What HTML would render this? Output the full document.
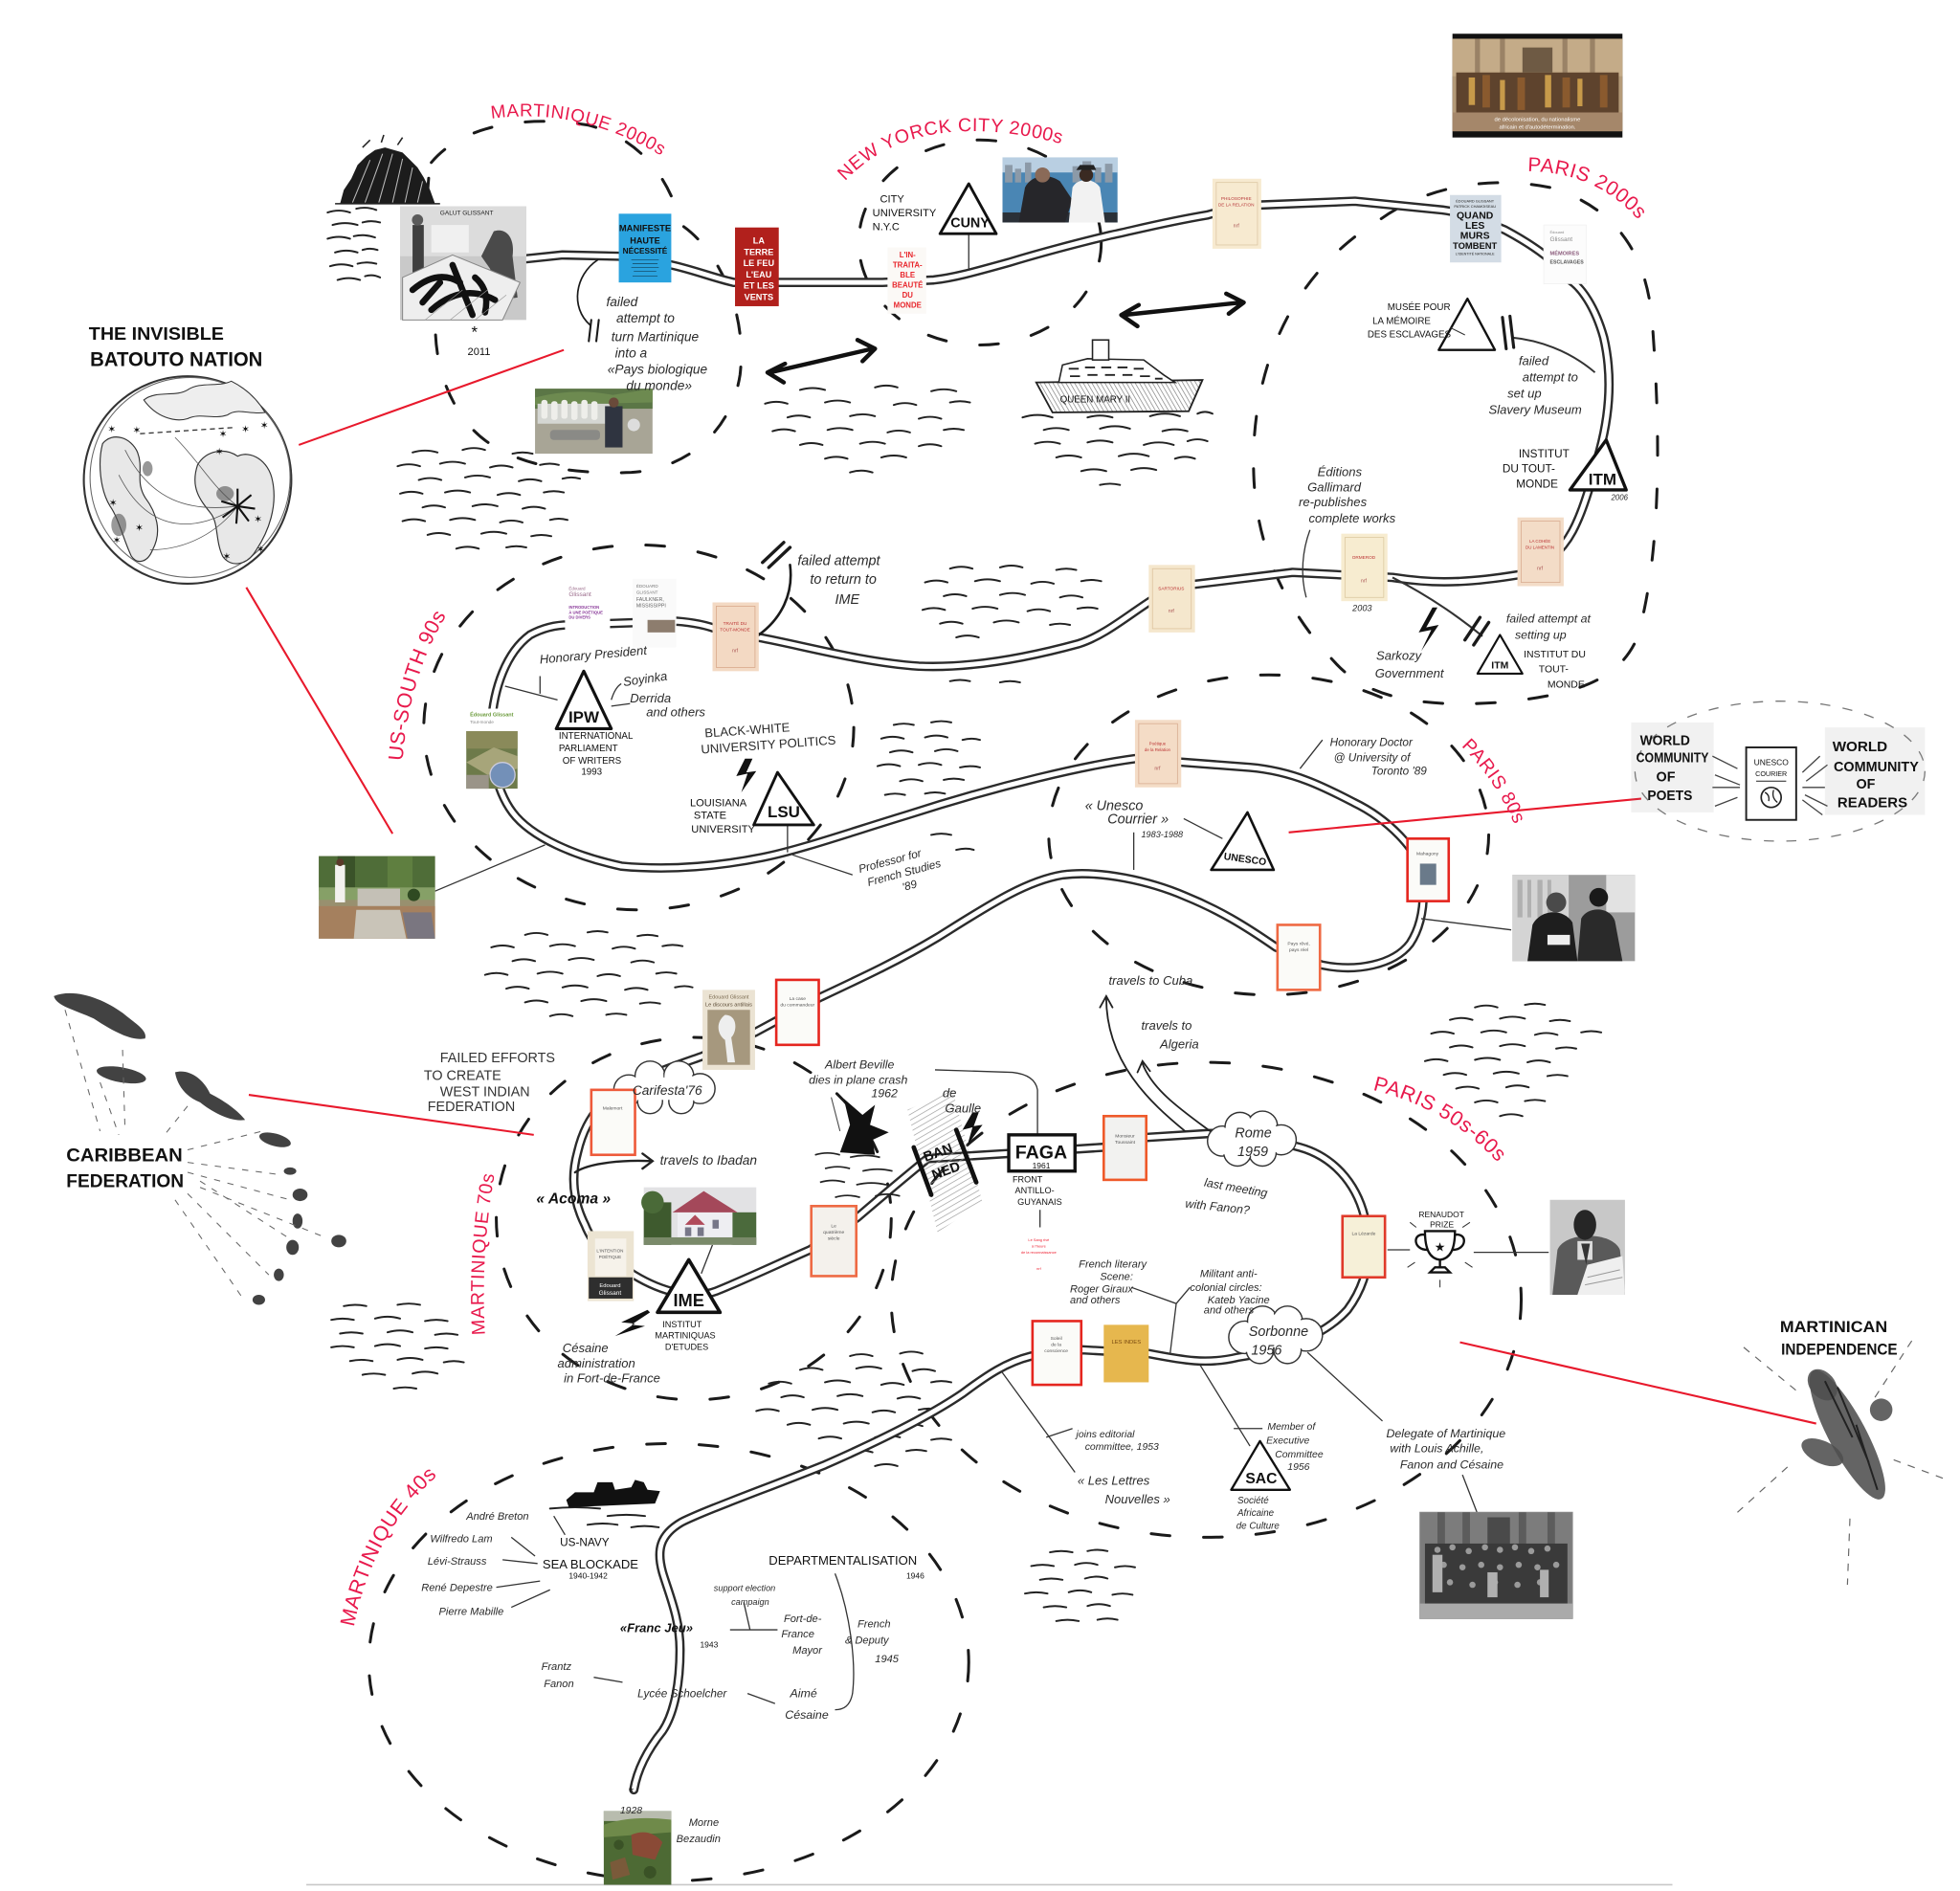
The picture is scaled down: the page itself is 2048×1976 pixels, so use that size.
<!DOCTYPE html>
<html><head><meta charset="utf-8"><style>
html,body{margin:0;padding:0;background:#fff;}
svg{display:block;}
text{font-family:"Liberation Sans",sans-serif;}
.h{font-style:italic;fill:#2a2a2a;}
.k{fill:#111;}
.b{fill:#111;font-weight:bold;}
.r{fill:#e8194c;letter-spacing:0.5px;}
</style></head><body>
<svg width="2048" height="1976" viewBox="0 0 1568 1513" xmlns="http://www.w3.org/2000/svg">
<defs>
<pattern id="hatch" width="4" height="4" patternUnits="userSpaceOnUse" patternTransform="rotate(60)"><line x1="0" y1="0" x2="0" y2="4" stroke="#999" stroke-width="1"/></pattern>
<pattern id="hatch2" width="3" height="3" patternUnits="userSpaceOnUse" patternTransform="rotate(-30)"><line x1="0" y1="0" x2="0" y2="3" stroke="#777" stroke-width="1"/></pattern>
<path id="pM2" d="M393,95 Q472,84 545,135"/>
<path id="pNY" d="M676,145 Q735,82 860,118"/>
<path id="pP2" d="M1222,137 Q1292,138 1326,198"/>
<path id="pUS" d="M322,609 Q328,530 368,476"/>
<path id="pP8" d="M1169,597 Q1208,635 1224,696"/>
<path id="pP5" d="M1098,872 Q1185,893 1230,975"/>
<path id="pM7" d="M388,1068 Q384,1000 397,932"/>
<path id="pM4" d="M283,1302 Q300,1215 368,1166"/>
<path id="rib" d="M507,1432 C510,1415 518,1400 530,1385 C540,1370 544,1345 544,1320 C544,1295 535,1275 530,1258 C525,1240 528,1228 545,1218 C565,1208 610,1192 660,1172 C710,1150 745,1132 770,1115 C790,1100 805,1090 825,1085 L866,1080 L919,1083 C945,1088 965,1092 990,1086 C1030,1080 1060,1068 1078,1048 C1095,1025 1098,1000 1092,975 C1085,945 1065,925 1040,918 C1010,910 990,906 966,907 L918,910 L882,918 L805,923 L742,927 C720,945 700,962 686,974 L648,1000 C625,1010 600,1022 573,1033 C555,1040 530,1034 507,1020 C488,1008 475,998 468,980 C458,960 457,940 462,922 C466,905 472,895 480,885 C490,875 500,868 512,864 C530,856 548,850 562,845 L604,826 L656,798 C690,782 720,768 750,750 C790,725 820,705 850,700 C880,696 920,705 948,717 C975,728 995,740 1021,758 L1057,772 C1085,778 1115,772 1128,755 C1138,740 1140,720 1138,700 C1135,680 1110,655 1083,642 C1060,630 1035,617 1000,614 L908,607 C870,612 800,628 726,652 C680,666 640,680 610,686 C580,692 540,697 497,693 C460,685 425,670 410,650 C395,630 392,600 393,580 C395,550 405,522 424,508 C435,502 445,500 455,500 L541,497 C555,498 565,500 575,504 L607,510 C640,516 690,530 735,533 C780,535 830,524 863,515 C885,508 905,490 925,478 C940,470 950,468 960,467 L1034,458 L1114,462 C1140,466 1165,468 1214,460 C1235,455 1250,440 1258,425 C1266,410 1272,390 1280,360 C1288,330 1290,300 1283,270 C1276,245 1265,230 1256,224 C1245,210 1230,198 1204,184 C1185,176 1170,170 1154,168 L1084,161 L1009,164 C995,166 980,168 966,172 C930,178 900,186 889,188 C860,195 830,203 807,210 C785,216 765,222 747,224 L706,226 L643,226 L587,226 C570,222 555,216 537,212 L495,205 L450,204 L421,207"/>
</defs>

<!-- bottom line -->
<line x1="245" y1="1508" x2="1338" y2="1508" stroke="#c8c8c8" stroke-width="1.2"/>

<!-- dashed regions -->
<g fill="none" stroke="#1a1a1a" stroke-width="2.3" stroke-dasharray="15 27" stroke-linecap="round">
<path d="M345,130 C370,100 420,92 470,100 C510,110 535,140 545,180 C575,200 598,250 592,300 C585,345 550,375 505,378 C450,380 400,370 375,340 C350,310 345,270 350,240 C345,200 338,160 345,130 Z"/>
<ellipse cx="784" cy="194" rx="97" ry="82"/>
<path d="M1105,175 C1140,150 1190,140 1240,150 C1290,165 1318,200 1322,260 C1328,340 1330,440 1310,510 C1295,545 1260,556 1200,562 C1140,566 1095,560 1068,530 C1030,490 1005,440 1003,380 C1000,300 1030,220 1105,175 Z"/>
<ellipse cx="511" cy="582" rx="172" ry="146"/>
<ellipse cx="1015" cy="668" rx="176" ry="128"/>
<ellipse cx="555" cy="975" rx="158" ry="145"/>
<ellipse cx="965" cy="1040" rx="252" ry="190"/>
<ellipse cx="535" cy="1330" rx="240" ry="175"/>
</g>
<ellipse cx="1424" cy="617" rx="116" ry="56" fill="none" stroke="#777" stroke-width="1" stroke-dasharray="8 10"/>

<!-- waves -->
<g fill="none" stroke="#222" stroke-width="1.5" stroke-linecap="round">
<path d="M262,170 q9,-3 18,0 M285,167 q8,-2 16,1 M266,180 q10,-3 20,0 M290,178 q7,-2 14,0 M262,191 q9,-3 18,0 M283,189 q9,-2 17,1 M268,202 q9,-3 18,0 M290,200 q6,-2 12,0 M264,213 q9,-3 18,0 M286,211 q8,-2 15,0 M270,224 q9,-3 18,0 M292,221 q6,-2 12,1"/>
<path d="M330,362 q10,-3 20,0 M370,360 q9,-3 18,0 M410,363 q8,-2 16,0 M318,373 q9,-3 18,0 M352,371 q10,-3 20,0 M392,374 q9,-3 18,0 M432,372 q8,-2 15,0 M335,384 q9,-3 18,0 M372,382 q10,-3 20,0 M415,385 q9,-3 18,0 M450,383 q7,-2 14,0 M320,395 q9,-3 18,0 M356,394 q10,-3 20,0 M398,396 q9,-3 18,0 M435,394 q8,-2 16,0 M338,406 q9,-3 18,0 M378,405 q10,-3 20,0 M418,407 q9,-3 18,0 M322,417 q9,-3 18,0 M360,416 q10,-3 20,0 M400,418 q9,-3 18,0 M440,416 q7,-2 14,0 M342,428 q9,-3 18,0 M385,427 q10,-3 20,0 M425,429 q8,-2 16,0 M365,439 q9,-3 18,0 M405,438 q8,-2 16,0"/>
<path d="M640,312 q10,-3 20,0 M700,310 q9,-3 18,0 M745,313 q10,-3 20,0 M612,323 q9,-3 18,0 M660,322 q10,-3 20,0 M715,324 q9,-3 18,0 M760,322 q8,-2 16,0 M630,334 q9,-3 18,0 M680,333 q10,-3 20,0 M735,335 q9,-3 18,0 M618,345 q9,-3 18,0 M662,344 q10,-3 20,0 M710,346 q9,-3 18,0 M755,344 q8,-2 16,0 M640,356 q9,-3 18,0 M688,355 q10,-3 20,0 M735,357 q9,-3 18,0 M660,367 q9,-3 18,0 M705,366 q10,-3 20,0 M680,378 q9,-3 18,0"/>
<path d="M818,334 q12,-4 24,0 M870,334 q10,-3 20,0 M920,333 q12,-4 24,0 M958,331 q6,-3 12,0 M835,344 q10,-3 20,0 M880,343 q12,-4 24,0 M930,345 q10,-3 20,0 M828,355 q10,-3 20,0 M870,354 q10,-3 20,0 M915,356 q12,-4 24,0 M950,353 q8,-3 16,0 M845,366 q10,-3 20,0 M895,365 q12,-4 24,0 M940,367 q8,-3 16,0 M865,377 q10,-3 20,0 M905,376 q10,-3 20,0 M880,388 q8,-2 16,0"/>
<path d="M715,580 q8,-2 16,0 M745,578 q8,-2 16,0 M705,591 q9,-3 18,0 M740,590 q9,-3 18,0 M770,592 q7,-2 14,0 M712,602 q9,-3 18,0 M748,601 q9,-3 18,0 M702,613 q9,-3 18,0 M735,612 q9,-3 18,0 M768,614 q8,-2 16,0 M720,625 q9,-3 18,0 M755,624 q8,-2 16,0 M708,636 q8,-2 16,0 M740,635 q8,-2 16,0 M745,668 q8,-2 16,0 M765,680 q8,-2 14,0"/>
<path d="M420,748 q9,-3 18,0 M470,746 q8,-2 16,0 M510,749 q8,-2 16,0 M393,758 q9,-3 18,0 M440,757 q10,-3 20,0 M490,759 q9,-3 18,0 M530,757 q8,-2 16,0 M410,769 q9,-3 18,0 M455,768 q10,-3 20,0 M505,770 q9,-3 18,0 M388,780 q9,-3 18,0 M430,779 q10,-3 20,0 M478,781 q9,-3 18,0 M525,779 q8,-2 16,0 M405,791 q9,-3 18,0 M450,790 q10,-3 20,0 M500,792 q9,-3 18,0 M540,790 q8,-2 14,0 M420,802 q9,-3 18,0 M465,801 q10,-3 20,0 M512,803 q8,-2 16,0 M440,813 q9,-3 18,0 M485,812 q8,-2 16,0"/>
<path d="M760,455 q9,-3 18,0 M800,454 q9,-3 18,0 M845,456 q8,-2 16,0 M740,466 q9,-3 18,0 M780,465 q10,-3 20,0 M825,467 q9,-3 18,0 M865,465 q8,-2 16,0 M755,477 q9,-3 18,0 M800,476 q10,-3 20,0 M848,478 q9,-3 18,0 M738,488 q9,-3 18,0 M778,487 q10,-3 20,0 M822,489 q9,-3 18,0 M862,487 q8,-2 16,0 M752,499 q9,-3 18,0 M795,498 q10,-3 20,0 M840,500 q8,-2 16,0 M765,510 q9,-3 18,0 M760,545 q8,-2 16,0 M800,546 q8,-2 16,0"/>
<path d="M1180,806 q9,-3 18,0 M1220,804 q8,-2 16,0 M1160,816 q9,-3 18,0 M1200,815 q10,-3 20,0 M1240,817 q8,-2 16,0 M1145,827 q9,-3 18,0 M1185,826 q10,-3 20,0 M1228,828 q9,-3 18,0 M1265,826 q8,-2 16,0 M1160,838 q9,-3 18,0 M1200,837 q10,-3 20,0 M1245,839 q8,-2 16,0 M1140,849 q9,-3 18,0 M1180,848 q10,-3 20,0 M1222,850 q9,-3 18,0 M1155,860 q9,-3 18,0 M1195,859 q10,-3 20,0 M1238,861 q8,-2 16,0 M1165,871 q9,-3 18,0 M1205,870 q9,-3 18,0 M1180,882 q9,-3 18,0 M1220,881 q8,-2 16,0 M1200,893 q9,-3 18,0"/>
<path d="M680,1085 q9,-3 18,0 M720,1083 q9,-3 18,0 M640,1096 q9,-3 18,0 M685,1095 q10,-3 20,0 M730,1097 q9,-3 18,0 M615,1107 q9,-3 18,0 M660,1106 q10,-3 20,0 M705,1108 q9,-3 18,0 M745,1106 q8,-2 16,0 M625,1118 q9,-3 18,0 M670,1117 q10,-3 20,0 M718,1119 q9,-3 18,0 M605,1129 q9,-3 18,0 M650,1128 q10,-3 20,0 M698,1130 q9,-3 18,0 M735,1128 q8,-2 16,0 M630,1140 q9,-3 18,0 M675,1139 q10,-3 20,0 M720,1141 q9,-3 18,0 M655,1151 q9,-3 18,0 M700,1150 q10,-3 20,0 M745,1152 q8,-2 16,0 M680,1162 q9,-3 18,0 M725,1161 q8,-2 16,0 M700,1173 q9,-3 18,0"/>
<path d="M275,1045 q9,-2 18,0 M318,1044 q9,-2 18,0 M265,1056 q9,-2 18,0 M300,1055 q10,-3 20,0 M340,1057 q9,-2 18,0 M272,1067 q9,-2 18,0 M310,1066 q10,-3 20,0 M348,1068 q9,-2 18,0 M265,1078 q9,-2 18,0 M300,1077 q10,-3 20,0 M340,1079 q9,-2 18,0 M280,1089 q9,-2 18,0 M318,1088 q10,-3 20,0 M355,1090 q8,-2 16,0 M290,1100 q9,-2 18,0 M330,1099 q10,-3 20,0 M315,1111 q9,-2 18,0"/>
<path d="M840,1242 q9,-2 18,0 M870,1241 q8,-2 16,0 M825,1253 q9,-2 18,0 M860,1252 q9,-3 18,0 M892,1254 q8,-2 16,0 M832,1264 q9,-2 18,0 M868,1263 q9,-3 18,0 M820,1275 q9,-2 18,0 M855,1274 q9,-3 18,0 M890,1276 q8,-2 16,0 M835,1286 q9,-2 18,0 M870,1285 q9,-3 18,0 M845,1297 q9,-2 18,0 M878,1296 q8,-2 16,0"/>
<path d="M440,1207 q20,-2 40,0 M486,1213 q15,-2 30,0 M470,1220 q12,-2 24,0 M505,1222 q10,-2 22,0"/>
</g>

<!-- ribbon -->
<g fill="none" stroke-linecap="round" stroke-linejoin="round">
<use href="#rib" stroke="#2b2b2b" stroke-width="7.5"/>
<use href="#rib" stroke="#fff" stroke-width="3.8"/>
</g>

<!-- red links -->
<g stroke="#e8192c" stroke-width="1.6">
<line x1="239" y1="356" x2="451" y2="280"/>
<line x1="197" y1="470" x2="314" y2="667"/>
<line x1="199" y1="876" x2="427" y2="908"/>
<line x1="1031" y1="666" x2="1313" y2="639"/>
<line x1="1168" y1="1074" x2="1453" y2="1139"/>
</g>

<!-- thin connectors -->
<g fill="none" stroke="#333" stroke-width="1">
<line x1="348" y1="713" x2="436" y2="676"/>
<line x1="1137" y1="735" x2="1209" y2="744"/>
<line x1="1040" y1="615" x2="1058" y2="592"/>
<line x1="1110" y1="1000" x2="1128" y2="1000"/>
<line x1="1179" y1="1002" x2="1239" y2="1002"/>
<line x1="1046" y1="1082" x2="1106" y2="1137"/>
<line x1="1170" y1="1180" x2="1182" y2="1211"/>
<line x1="960" y1="1092" x2="1000" y2="1157"/>
<line x1="987" y1="1143" x2="1010" y2="1143"/>
<line x1="801" y1="1097" x2="860" y2="1178"/>
<path d="M837,1150 L858,1143"/>
<path d="M905,1030 L941,1043 L952,1030 M941,1043 L936,1084"/>
<line x1="832" y1="968" x2="832" y2="982"/>
<path d="M830,908 L830,872 Q828,860 810,858 L748,856"/>
<line x1="570" y1="996" x2="561" y2="1019"/>
<line x1="907" y1="666" x2="907" y2="696"/>
<line x1="947" y1="655" x2="978" y2="671"/>
<line x1="630" y1="660" x2="630" y2="682"/>
<line x1="634" y1="684" x2="682" y2="700"/>
<path d="M404,549 L446,560 M432,541 L432,555 M489,560 Q492,550 497,547 M489,565 L504,563"/>
<line x1="775" y1="187" x2="775" y2="215"/>
<path d="M1048,424 C1042,440 1040,460 1045,478"/>
<path d="M1209,270 C1230,272 1255,280 1276,298" stroke-width="1.5"/>
<path d="M1114,462 C1140,475 1165,492 1186,509" stroke-width="1.6"/>
<line x1="475" y1="1342" x2="498" y2="1346"/>
<line x1="598" y1="1355" x2="620" y2="1363"/>
<path d="M584,1304 L622,1304 M600,1304 L595,1282"/>
<path d="M668,1259 C680,1290 685,1330 682,1355 C680,1365 675,1368 668,1368"/>
<path d="M443,1213 L452,1228 M409,1230 L428,1245 M402,1248 L430,1251 M397,1270 L432,1265 M409,1286 L440,1272"/>
</g>

<!-- failed branches with bars -->
<g fill="none" stroke="#1a1a1a" stroke-linecap="round">
<path d="M607,508 C625,495 635,475 632,452" stroke-width="2"/>
<path d="M610,450 L627,434 M615,454 L632,438" stroke-width="2.6"/>
<path d="M478,208 C460,220 456,246 472,260" stroke-width="1.3"/>
<path d="M473,256 L471,273 M479,256 L477,273" stroke-width="1.6"/>
<path d="M1172,512 L1184,494 M1179,516 L1191,498" stroke-width="2.6"/>
<path d="M1202,254 L1205,279 M1208,253 L1211,278" stroke-width="2.4"/>
</g>

<!-- double arrows -->
<g fill="none" stroke="#111" stroke-width="3.4" stroke-linecap="round" stroke-linejoin="round">
<path d="M616,298 L698,279 M686,272 L700,279 L690,289 M628,291 L614,298 L627,306"/>
<path d="M899,252 L993,242 M981,235 L995,242 L983,251 M911,244 L897,252 L910,261"/>
</g>
<!-- travel arrows -->
<g fill="none" stroke="#222" stroke-width="1.4" stroke-linecap="round">
<path d="M948,905 C920,882 885,850 885,798 M880,806 L885,797 L890,806"/>
<path d="M968,905 C945,888 922,872 914,851 M910,858 L914,849 L920,857"/>
<path d="M460,938 C472,930 500,928 521,929 M514,923 L522,929 L514,935" stroke-width="1.8"/>
</g>

<!-- mountain -->
<path d="M272,163 L275,152 L281,143 L286,132 L293,125 L300,120 L308,118 L315,120 L322,122 L328,128 L334,134 L339,142 L344,152 L348,163 Z" fill="#1c1c1c"/>
<g stroke="#fff" stroke-width="0.8" opacity="0.7"><path d="M282,162 L296,128 M292,162 L306,123 M303,162 L314,123 M314,162 L322,127 M324,162 L330,134 M334,162 L338,145"/></g>
<g stroke="#222" stroke-width="1.2"><path d="M268,163 L352,163 M290,118 L296,112 M305,114 L307,108 M318,116 L322,110"/></g>

<!-- globe -->
<g fill="none" stroke="#333">
<circle cx="150" cy="384" r="83" stroke-width="1.6"/>
<circle cx="152" cy="382" r="80" stroke-width="0.8" stroke="#666"/>
<path d="M82,355 C90,345 105,350 110,362 C115,375 108,385 116,398 C125,410 130,425 122,440 C118,450 110,452 105,445 C98,430 95,415 88,405 C80,392 78,370 82,355 Z" fill="#e8e8e8" stroke-width="0.9"/>
<path d="M158,372 C165,360 180,358 190,365 C200,360 215,368 218,385 C222,405 215,425 205,440 C198,452 185,455 178,445 C172,432 175,418 168,410 C160,400 152,390 158,372 Z" fill="#e8e8e8" stroke-width="0.9"/>
<path d="M115,320 C125,312 140,318 150,312 C160,305 175,310 185,305 C195,310 205,318 212,330 C200,332 190,326 182,332 C170,336 160,330 150,335 C140,338 125,334 115,320 Z" fill="#eee" stroke-width="0.8"/>
<path d="M112,347 L188,342" stroke-dasharray="4 3" stroke-width="1"/>
<path d="M100,360 C120,400 150,410 190,405 M95,380 C120,430 160,425 190,405 M140,350 C160,370 170,390 190,405 M120,440 C150,440 175,425 190,405" stroke-width="0.6" stroke="#555"/>
<path d="M190,405 L190,391 M190,405 L201,396 M190,405 L204,407 M190,405 L199,417 M190,405 L189,419 M190,405 L178,414 M190,405 L177,401" stroke="#111" stroke-width="1.6"/>
</g>
<g fill="#555" opacity="0.6"><ellipse cx="95" cy="420" rx="6" ry="9"/><ellipse cx="180" cy="395" rx="7" ry="6"/><ellipse cx="118" cy="375" rx="4" ry="6"/></g>
<g font-size="8" fill="#111"><text x="86" y="346">✶</text><text x="106" y="347">✶</text><text x="175" y="350">✶</text><text x="193" y="346">✶</text><text x="208" y="343">✶</text><text x="87" y="405">✶</text><text x="108" y="425">✶</text><text x="172" y="364">✶</text><text x="203" y="418">✶</text><text x="205" y="442">✶</text><text x="178" y="448">✶</text><text x="90" y="435">✶</text></g>

<!-- Caribbean islands -->
<g fill="#2e2e2e" opacity="0.9">
<path d="M43,797 C60,790 85,800 100,812 C110,820 118,825 116,831 C105,833 90,825 75,815 C60,808 45,805 43,797 Z"/>
<ellipse cx="97" cy="860" rx="20" ry="6" transform="rotate(10 97 860)"/>
<path d="M140,858 C150,855 162,862 168,875 C178,880 190,888 196,896 C185,898 170,890 160,882 C150,878 142,870 140,858 Z"/>
<ellipse cx="220" cy="912" rx="13" ry="5" transform="rotate(15 220 912)"/>
<ellipse cx="232" cy="937" rx="5" ry="3"/><ellipse cx="240" cy="956" rx="6" ry="5"/><ellipse cx="238" cy="977" rx="4" ry="6"/><ellipse cx="234" cy="998" rx="5" ry="6"/><ellipse cx="223" cy="1020" rx="4" ry="5"/><ellipse cx="207" cy="1040" rx="5" ry="4"/><ellipse cx="271" cy="993" rx="6" ry="5"/>
</g>
<g stroke="#666" stroke-width="0.8" stroke-dasharray="5 6" fill="none">
<path d="M52,808 L80,905 M80,866 L95,908 M98,840 L100,905 M150,885 L130,910 M150,920 L210,905 M150,930 L225,940 M150,938 L232,960 M160,945 L230,990 M150,955 L215,1020 M140,960 L195,1040 M160,950 L260,990"/>
</g>

<!-- dove -->
<g>
<ellipse cx="1478" cy="1148" rx="58" ry="15" transform="rotate(62 1478 1148)" fill="#4e4e4e" opacity="0.88"/>
<circle cx="1505" cy="1128" r="9" fill="#4e4e4e" opacity="0.88"/>
<ellipse cx="1458" cy="1162" rx="18" ry="9" transform="rotate(25 1458 1162)" fill="#4e4e4e" opacity="0.88"/>
<ellipse cx="1458" cy="1108" rx="14" ry="10" transform="rotate(50 1458 1108)" fill="#4e4e4e" opacity="0.88"/>
<path d="M1460,1105 L1482,1150 M1470,1110 L1495,1170 M1485,1140 L1502,1192" stroke="#222" stroke-width="1.5"/>
</g>
<g stroke="#666" stroke-width="0.9" stroke-dasharray="6 6"><path d="M1395,1078 L1440,1115 M1500,1118 L1530,1072 M1515,1168 L1555,1183 M1390,1210 L1432,1172 M1480,1215 L1478,1268"/></g>

<!-- ships -->
<g>
<polygon points="829,306 962,304 951,329 842,330" fill="url(#hatch2)" stroke="#222" stroke-width="1.4"/>
<polygon points="847,306 850,292 870,287 915,288 931,300 940,306" fill="#fff" stroke="#222" stroke-width="1.2"/>
<path d="M855,295 h8 M868,294 h8 M881,294 h8 M894,294 h8 M907,295 h8 M856,301 h8 M870,300 h8 M884,300 h8 M898,300 h8 M912,301 h8 M924,303 h6" stroke="#222" stroke-width="1.4"/>
<rect x="874" y="272" width="13" height="16" fill="#fff" stroke="#222" stroke-width="1.2"/>
<text x="848" y="322" font-size="7.5" fill="#111">QUEEN MARY II</text>
</g>
<path d="M453,1200 L460,1194 L475,1194 L478,1186 L490,1186 L492,1192 L505,1190 L508,1184 L515,1186 L518,1192 L528,1193 L524,1203 L455,1206 Z" fill="#111"/>

<!-- plane crash -->
<path d="M672,922 L680,900 L675,879 L690,892 L700,884 L696,900 L711,906 L698,912 L700,924 Z" fill="#111"/>
<g fill="none" stroke="#222" stroke-width="1.3"><path d="M652,924 q10,-3 20,0 M680,926 q12,-3 24,0 M660,935 q10,-3 20,0 M690,937 q12,-3 24,0 M656,946 q10,-3 20,0 M685,948 q12,-3 24,0 M668,958 q10,-3 20,0 M700,957 q10,-3 20,0"/></g>
<line x1="665" y1="878" x2="672" y2="905" stroke="#444" stroke-width="0.8"/>

<!-- BANNED -->
<polygon points="726,888 762,872 786,962 750,986" fill="url(#hatch)"/>
<g stroke="#111" stroke-width="3.6" stroke-linecap="round"><line x1="731" y1="918" x2="745" y2="956"/><line x1="765" y1="904" x2="781" y2="946"/></g>
<text x="741" y="927" font-size="11" class="b" transform="rotate(-20 748 930)">BAN</text>
<text x="746" y="942" font-size="11" class="b" transform="rotate(-20 752 940)">NED</text>

<!-- lightning -->
<g fill="#111">
<polygon points="1146,486 1135,506 1145,504 1137,521 1151,500 1141,502 1150,486"/>
<polygon points="596,607 589,621 598,619 593,634 605,617 597,618 602,607"/>
<polygon points="518,1048 497,1058 508,1059 492,1069 516,1061 505,1060 520,1050"/>
<polygon points="778,890 770,904 778,902 774,916 786,900 779,901 783,890"/>
</g>

<!-- clouds -->
<g stroke="#333" stroke-width="1.1" fill="#fff">
<circle cx="978" cy="913" r="12"/><circle cx="992" cy="902" r="12"/><circle cx="1010" cy="901" r="12"/><circle cx="1025" cy="912" r="12"/><circle cx="1010" cy="922" r="11"/><circle cx="990" cy="922" r="11"/>
<circle cx="996" cy="1070" r="13"/><circle cx="1010" cy="1057" r="12"/><circle cx="1030" cy="1057" r="12"/><circle cx="1045" cy="1068" r="13"/><circle cx="1030" cy="1080" r="11"/><circle cx="1008" cy="1080" r="11"/>
<circle cx="503" cy="872" r="12"/><circle cx="520" cy="861" r="12"/><circle cx="543" cy="861" r="12"/><circle cx="560" cy="871" r="12"/><circle cx="545" cy="881" r="10"/><circle cx="520" cy="881" r="10"/>
</g>
<g fill="#fff">
<circle cx="978" cy="913" r="10.8"/><circle cx="992" cy="902" r="10.8"/><circle cx="1010" cy="901" r="10.8"/><circle cx="1025" cy="912" r="10.8"/><circle cx="1010" cy="922" r="9.8"/><circle cx="990" cy="922" r="9.8"/><rect x="985" y="905" width="35" height="15"/>
<circle cx="996" cy="1070" r="11.8"/><circle cx="1010" cy="1057" r="10.8"/><circle cx="1030" cy="1057" r="10.8"/><circle cx="1045" cy="1068" r="11.8"/><circle cx="1030" cy="1080" r="9.8"/><circle cx="1008" cy="1080" r="9.8"/><rect x="1000" y="1060" width="40" height="18"/>
<circle cx="503" cy="872" r="10.8"/><circle cx="520" cy="861" r="10.8"/><circle cx="543" cy="861" r="10.8"/><circle cx="560" cy="871" r="10.8"/><circle cx="545" cy="881" r="8.8"/><circle cx="520" cy="881" r="8.8"/><rect x="505" y="862" width="50" height="18"/>
</g>

<!-- triangles -->
<g fill="#fff" stroke="#111" stroke-width="2.2" stroke-linejoin="round">
<polygon points="775,147 752,187 797,187"/>
<polygon points="1174,239 1151,280 1196,280" stroke-width="1.8"/>
<polygon points="1285,352 1256,392 1301,392" stroke-width="2.6"/>
<polygon points="1200,508 1182,539 1218,539" stroke-width="1.6"/>
<polygon points="467,537 445,583 489,583" stroke-width="2.4"/>
<polygon points="622,618 603,660 651,660"/>
<polygon points="998,650 969,696 1019,696" stroke-width="2"/>
<polygon points="551,1008 526,1050 576,1050" stroke-width="2.8"/>
<polygon points="1008,1153 985,1192 1032,1192" stroke-width="1.8"/>
</g>
<line x1="1160" y1="262" x2="1172" y2="268" stroke="#333" stroke-width="0.8"/>
<g class="b" text-anchor="middle">
<text x="776" y="182" font-size="11">CUNY</text>
<text x="1282" y="388" font-size="13">ITM</text>
<text x="1200" y="535" font-size="8">ITM</text>
<text x="467" y="578" font-size="13">IPW</text>
<text x="627" y="654" font-size="13">LSU</text>
<text x="996" y="690" font-size="8" transform="rotate(8 996 688)">UNESCO</text>
<text x="551" y="1045" font-size="14">IME</text>
<text x="1009" y="1187" font-size="12">SAC</text>
</g>

<!-- FAGA -->
<rect x="807" y="908" width="53" height="29" fill="#fff" stroke="#111" stroke-width="2.6"/>
<text x="833" y="927" font-size="15" class="b" text-anchor="middle">FAGA</text>
<text x="833" y="935" font-size="6.5" class="k" text-anchor="middle">1961</text>

<!-- trophy -->
<g fill="#fff" stroke="#111" stroke-width="1.8">
<path d="M1140,985 L1164,985 C1164,1000 1160,1007 1152,1008 C1144,1007 1140,1000 1140,985 Z"/>
<path d="M1140,988 C1130,986 1130,1000 1142,1000 M1164,988 C1174,986 1174,1000 1162,1000" fill="none"/>
<path d="M1152,1008 L1152,1014 M1144,1018 L1160,1018 L1156,1014 L1148,1014 Z"/>
</g>
<text x="1152" y="1001" font-size="10" text-anchor="middle" class="k">★</text>
<g stroke="#333" stroke-width="0.8"><path d="M1133,982 L1128,978 M1170,982 L1176,978 M1132,1010 L1126,1014 M1172,1010 L1178,1014 M1152,1024 L1152,1030"/></g>

<!-- Unesco courier -->
<rect x="1397" y="598" width="40" height="58" fill="#fff" stroke="#222" stroke-width="1.5"/>
<text x="1417" y="612" font-size="6.5" class="k" text-anchor="middle">UNESCO</text>
<text x="1417" y="621" font-size="5.5" class="k" text-anchor="middle">COURIER</text>
<line x1="1405" y1="625" x2="1429" y2="625" stroke="#222" stroke-width="0.8"/>
<circle cx="1417" cy="638" r="8" fill="#fff" stroke="#222" stroke-width="1.3"/>
<path d="M1412,634 q4,2 3,7 M1419,632 q-2,6 3,10" stroke="#222" fill="none" stroke-width="1"/>
<g stroke="#444" stroke-width="1"><path d="M1370,605 L1390,615 M1372,620 L1392,628 M1370,630 L1392,630 M1372,645 L1390,638 M1442,630 L1460,630 M1442,618 L1456,605 M1442,640 L1458,652 M1445,625 L1462,612 M1444,636 L1462,645"/></g>
<rect x="1305" y="578" width="66" height="72" fill="#888" opacity="0.12"/>
<rect x="1460" y="582" width="80" height="70" fill="#888" opacity="0.12"/>

<!-- PHOTOS -->
<!-- NYC group top right -->
<rect x="1162" y="27" width="136" height="83" fill="#111"/>
<rect x="1162" y="31" width="136" height="74" fill="#b49a78"/>
<rect x="1162" y="31" width="136" height="30" fill="#c4ab88"/>
<g fill="#9a8266"><rect x="1180" y="31" width="4" height="28"/><rect x="1200" y="31" width="4" height="28"/><rect x="1250" y="31" width="4" height="28"/><rect x="1272" y="31" width="4" height="28"/><rect x="1218" y="38" width="24" height="20" fill="#6e5a44"/></g>
<rect x="1165" y="58" width="130" height="32" fill="#5e432d"/>
<g fill="#c79a4a"><rect x="1175" y="62" width="5" height="22"/><rect x="1200" y="64" width="4" height="24"/><rect x="1236" y="60" width="5" height="26"/><rect x="1262" y="63" width="4" height="22"/></g>
<g fill="#8a5a2e"><rect x="1186" y="60" width="6" height="26"/><rect x="1214" y="62" width="6" height="26"/><rect x="1250" y="62" width="6" height="24"/><rect x="1280" y="60" width="6" height="26"/></g>
<rect x="1162" y="90" width="136" height="15" fill="#a5876a"/>
<text x="1230" y="97" font-size="4.5" fill="#fff" text-anchor="middle">de décolonisation, du nationalisme</text>
<text x="1230" y="103" font-size="4.5" fill="#fff" text-anchor="middle">africain et d'autodétermination.</text>

<!-- Galut Glissant photo -->
<rect x="320" y="165" width="101" height="91" fill="#c9c9c9"/>
<rect x="320" y="165" width="101" height="40" fill="#dcdcdc"/>
<rect x="345" y="180" width="30" height="22" fill="#f0f0f0"/>
<rect x="330" y="180" width="9" height="45" fill="#3f3f3f"/>
<circle cx="334" cy="176" r="4.5" fill="#5a5a5a"/>
<path d="M395,185 C405,182 412,190 410,205 L414,238 L400,240 L392,215 L385,205 Z" fill="#4a4a4a"/>
<polygon points="322,222 362,204 416,226 402,256 322,256" fill="#eeeeee" stroke="#888" stroke-width="0.8"/>
<g stroke="#111" stroke-width="5" fill="none" stroke-linecap="round"><path d="M330,232 Q350,215 368,226"/><path d="M345,248 Q370,226 396,240"/><path d="M362,212 L378,252"/><path d="M338,242 L352,226"/><path d="M380,222 Q392,232 388,250"/></g>
<g stroke="#999" stroke-width="0.5"><path d="M340,256 L370,232 M360,256 L390,232 M380,256 L405,236"/></g>
<text x="352" y="172" font-size="5" fill="#222">GALUT GLISSANT</text>

<!-- sculpture photo -->
<rect x="428" y="311" width="94" height="52" fill="#a8a596"/>
<rect x="428" y="311" width="94" height="16" fill="#5b7646"/>
<path d="M428,318 Q460,310 490,316 L522,311 L522,322 L428,324 Z" fill="#6d8a50"/>
<rect x="430" y="323" width="58" height="16" fill="#d4d6d2"/>
<g fill="#eeeeea"><rect x="433" y="320" width="5" height="15" rx="2"/><rect x="441" y="321" width="5" height="15" rx="2"/><rect x="449" y="320" width="5" height="15" rx="2"/><rect x="457" y="321" width="5" height="15" rx="2"/><rect x="465" y="320" width="5" height="15" rx="2"/><rect x="473" y="321" width="5" height="15" rx="2"/></g>
<rect x="440" y="344" width="40" height="8" rx="3" fill="#8a8a86"/>
<rect x="484" y="325" width="14" height="33" fill="#2f3440"/>
<circle cx="491" cy="322" r="4" fill="#6a4a3a"/>
<circle cx="507" cy="340" r="5" fill="#ddd"/>

<!-- NYC photo -->
<rect x="802" y="126" width="92" height="52" fill="#4a86b4"/>
<rect x="802" y="126" width="92" height="12" fill="#b9cfe2"/>
<g fill="#8c9aa8"><rect x="804" y="132" width="6" height="14"/><rect x="812" y="135" width="5" height="11"/><rect x="820" y="130" width="5" height="16"/><rect x="858" y="133" width="6" height="13"/><rect x="866" y="129" width="7" height="17"/><rect x="876" y="134" width="5" height="12"/><rect x="884" y="131" width="6" height="15"/></g>
<rect x="802" y="170" width="92" height="8" fill="#2a3038"/>
<path d="M815,178 L820,150 C825,140 838,138 848,145 L858,160 L852,178 Z" fill="#26262a"/>
<circle cx="834" cy="140" r="6" fill="#8a6a58"/>
<path d="M855,178 L858,150 C862,142 875,142 880,150 L884,178 Z" fill="#f2f2f2"/>
<circle cx="869" cy="140" r="5.5" fill="#3a2a22"/>
<path d="M861,136 L877,136 L875,132 L864,132 Z" fill="#222"/>

<!-- grave photo -->
<rect x="255" y="685" width="93" height="66" fill="#98906f"/>
<rect x="255" y="685" width="93" height="28" fill="#4f6d38"/>
<rect x="270" y="685" width="14" height="30" fill="#3a5229"/>
<rect x="310" y="685" width="20" height="25" fill="#5f7f40"/>
<rect x="255" y="710" width="93" height="10" fill="#86a067"/>
<rect x="268" y="692" width="8" height="30" fill="#f2f2ee"/>
<circle cx="272" cy="690" r="3" fill="#5a3a2a"/>
<rect x="286" y="711" width="34" height="14" fill="#c4c0b6"/>
<circle cx="331" cy="716" r="5" fill="#2f4a22"/>
<rect x="255" y="725" width="93" height="26" fill="#a5805e"/>
<polygon points="285,728 320,728 325,751 283,751" fill="#c9c4b8"/>
<polygon points="322,730 345,730 348,751 326,751" fill="#7a7680"/>

<!-- Tout-monde book -->
<rect x="373" y="567" width="41" height="64" fill="#fff"/>
<text x="376" y="573" font-size="4.2" fill="#6a9a3a" font-weight="bold">Édouard Glissant</text>
<text x="376" y="579" font-size="3.6" fill="#888">Tout-monde</text>
<rect x="373" y="585" width="41" height="46" fill="#6d7a4a"/>
<rect x="373" y="585" width="41" height="14" fill="#8a8a5a"/>
<path d="M373,610 L395,598 L414,605 L414,615 L390,620 Z" fill="#a7a57a"/>
<circle cx="402" cy="620" r="10" fill="#7390b8" stroke="#ccd" stroke-width="1"/>
<rect x="373" y="620" width="18" height="11" fill="#9a9488"/>

<!-- two men photo -->
<rect x="1210" y="700" width="98" height="69" fill="#9c9c9c"/>
<rect x="1210" y="700" width="45" height="69" fill="#d4d4d4"/>
<g fill="#b0b0b0"><rect x="1214" y="704" width="4" height="30"/><rect x="1222" y="704" width="3" height="30"/><rect x="1230" y="704" width="4" height="30"/><rect x="1238" y="704" width="3" height="30"/></g>
<rect x="1285" y="700" width="23" height="30" fill="#e2e2e2"/>
<path d="M1222,769 L1226,740 C1232,728 1250,726 1258,738 L1262,769 Z" fill="#1e1e1e"/>
<circle cx="1245" cy="722" r="8" fill="#4a4a4a"/>
<path d="M1262,769 L1265,735 C1270,725 1288,725 1292,737 L1298,769 Z" fill="#2a2a2a"/>
<circle cx="1279" cy="718" r="7.5" fill="#1a1a1a"/>
<rect x="1238" y="748" width="18" height="8" fill="#eee"/>

<!-- house photo -->
<rect x="515" y="950" width="90" height="46" fill="#e2e2e4"/>
<rect x="515" y="962" width="22" height="34" fill="#3e5a2e"/>
<circle cx="522" cy="962" r="9" fill="#4a6a38"/>
<rect x="585" y="970" width="20" height="26" fill="#4b6a3c"/>
<rect x="542" y="968" width="44" height="28" fill="#eeeef2"/>
<polygon points="538,970 563,953 590,970" fill="#a4485a"/>
<polygon points="548,980 556,972 564,980" fill="#b04a5a"/>
<g fill="#778"><rect x="548" y="982" width="5" height="7"/><rect x="558" y="982" width="5" height="7"/><rect x="570" y="976" width="5" height="7"/></g>
<rect x="515" y="990" width="90" height="6" fill="#7a8a6a"/>

<!-- Glissant portrait -->
<rect x="1240" y="960" width="60" height="76" fill="#c8c8c8"/>
<path d="M1242,1036 L1246,1000 C1252,985 1290,985 1296,1000 L1300,1036 Z" fill="#5a5a5a"/>
<ellipse cx="1268" cy="980" rx="9" ry="12" fill="#262626"/>
<rect x="1262" y="993" width="12" height="15" fill="#ddd"/>
<polygon points="1265,995 1272,995 1269,1012" fill="#333"/>
<polygon points="1270,1012 1298,1005 1300,1036 1262,1036" fill="#efefef"/>
<path d="M1270,1022 L1296,1016 M1268,1028 L1298,1022" stroke="#999" stroke-width="0.8"/>

<!-- group photo 1950s -->
<rect x="1136" y="1210" width="122" height="85" fill="#7c7c7c" stroke="#888" stroke-width="0.8"/>
<g fill="#5c5c5c"><rect x="1150" y="1210" width="6" height="30"/><rect x="1170" y="1210" width="6" height="30"/><rect x="1215" y="1210" width="6" height="30"/><rect x="1238" y="1210" width="6" height="30"/></g>
<rect x="1190" y="1214" width="18" height="22" fill="#4a4a4a"/>
<rect x="1140" y="1235" width="114" height="48" fill="#3a3a3a"/>
<g fill="#9a9a9a"><circle cx="1150" cy="1240" r="2.5"/><circle cx="1162" cy="1238" r="2.5"/><circle cx="1175" cy="1241" r="2.5"/><circle cx="1188" cy="1238" r="2.5"/><circle cx="1200" cy="1240" r="2.5"/><circle cx="1212" cy="1238" r="2.5"/><circle cx="1225" cy="1241" r="2.5"/><circle cx="1238" cy="1239" r="2.5"/><circle cx="1155" cy="1252" r="2.5"/><circle cx="1170" cy="1254" r="2.5"/><circle cx="1185" cy="1252" r="2.5"/><circle cx="1200" cy="1254" r="2.5"/><circle cx="1215" cy="1252" r="2.5"/><circle cx="1230" cy="1254" r="2.5"/><circle cx="1245" cy="1252" r="2.5"/><circle cx="1160" cy="1266" r="2.5"/><circle cx="1178" cy="1268" r="2.5"/><circle cx="1196" cy="1266" r="2.5"/><circle cx="1214" cy="1268" r="2.5"/><circle cx="1232" cy="1266" r="2.5"/></g>
<g fill="#b0b0b0"><rect x="1190" y="1258" width="8" height="20"/><rect x="1146" y="1244" width="8" height="30"/><rect x="1232" y="1256" width="7" height="22"/></g>
<rect x="1136" y="1283" width="122" height="12" fill="#aaa"/>

<!-- Morne Bezaudin -->
<rect x="483" y="1449" width="54" height="59" fill="#4d6a34"/>
<rect x="483" y="1449" width="54" height="8" fill="#b8bcae"/>
<path d="M483,1460 Q505,1452 537,1456 L537,1466 L483,1470 Z" fill="#6f8a4a"/>
<path d="M505,1468 Q520,1462 530,1474 L524,1488 L506,1484 Z" fill="#8a4a36"/>
<path d="M488,1490 L500,1486 L504,1500 L490,1504 Z" fill="#7a5a3a"/>
<circle cx="495" cy="1476" r="4" fill="#3a5226"/><circle cx="520" cy="1498" r="5" fill="#3a5226"/>

<!-- BOOKS -->
<rect x="495" y="171" width="42" height="55" fill="#2aa3df"/>
<text x="516" y="185" font-size="7.2" class="b" text-anchor="middle">MANIFESTE</text>
<text x="516" y="195" font-size="7" class="b" text-anchor="middle">HAUTE</text>
<text x="516" y="203" font-size="6.3" class="b" text-anchor="middle">NÉCESSITÉ</text>
<g stroke="#15506e" stroke-width="0.6"><path d="M505,208 h22 M506,211 h20 M505,214 h22 M507,217 h18 M506,221 h20"/></g>
<rect x="588" y="182" width="35" height="63" fill="#b1201c"/>
<g font-size="7" fill="#fff" font-weight="bold" text-anchor="middle"><text x="607" y="195">LA</text><text x="607" y="204">TERRE</text><text x="607" y="213">LE FEU</text><text x="607" y="222">L'EAU</text><text x="607" y="231">ET LES</text><text x="607" y="240">VENTS</text></g>
<rect x="710" y="198" width="31" height="53" fill="#fbf9f6"/>
<g font-size="6" fill="#e8262c" font-weight="bold" text-anchor="middle"><text x="726" y="206">L'IN-</text><text x="726" y="214">TRAITA-</text><text x="726" y="222">BLE</text><text x="726" y="230">BEAUTÉ</text><text x="726" y="238">DU</text><text x="726" y="246">MONDE</text></g>
<rect x="970" y="143" width="39" height="56" fill="#f7ead0"/>
<rect x="973" y="146" width="33" height="50" fill="none" stroke="#dcc7a4" stroke-width="0.6"/>
<text x="989" y="160" font-size="3.6" fill="#b8383a" text-anchor="middle">PHILOSOPHIE</text>
<text x="989" y="165" font-size="3.6" fill="#b8383a" text-anchor="middle">DE LA RELATION</text>
<text x="989" y="182" font-size="4" fill="#a55" text-anchor="middle">nrf</text>
<rect x="1160" y="156" width="41" height="54" fill="#d3dce5"/>
<text x="1180" y="162" font-size="3" fill="#222" text-anchor="middle">ÉDOUARD GLISSANT</text>
<text x="1180" y="166" font-size="3" fill="#222" text-anchor="middle">PATRICK CHAMOISEAU</text>
<g font-size="8" fill="#111" font-weight="bold" text-anchor="middle"><text x="1180" y="175">QUAND</text><text x="1180" y="183">LES</text><text x="1180" y="191">MURS</text><text x="1180" y="199" font-size="7.2">TOMBENT</text></g>
<text x="1180" y="204" font-size="2.8" fill="#222" text-anchor="middle">L'IDENTITÉ NATIONALE</text>
<rect x="1235" y="180" width="34" height="47" fill="#fcfcfc" stroke="#eee" stroke-width="0.5"/>
<text x="1240" y="187" font-size="3" fill="#888">Édouard</text>
<text x="1240" y="193" font-size="5" fill="#888">Glissant</text>
<text x="1240" y="204" font-size="4.3" fill="#8a5a7a" font-weight="bold">MÉMOIRES</text>
<text x="1240" y="211" font-size="4" fill="#555" font-weight="bold">ESCLAVAGES</text>
<rect x="452" y="465" width="36" height="49" fill="#fff"/>
<text x="455" y="472" font-size="3.5" fill="#9a6a8a">Édouard</text>
<text x="455" y="477" font-size="5" fill="#9a6a8a">Glissant</text>
<text x="455" y="487" font-size="3.2" fill="#8a3a9a" font-weight="bold">INTRODUCTION</text>
<text x="455" y="491" font-size="3.2" fill="#8a3a9a" font-weight="bold">À UNE POÉTIQUE</text>
<text x="455" y="495" font-size="3.2" fill="#8a3a9a" font-weight="bold">DU DIVERS</text>
<rect x="506" y="463" width="35" height="55" fill="#fafafa"/>
<text x="509" y="470" font-size="3.5" fill="#777">ÉDOUARD</text>
<text x="509" y="475" font-size="3.5" fill="#777">GLISSANT</text>
<text x="509" y="481" font-size="4" fill="#666">FAULKNER,</text>
<text x="509" y="486" font-size="4" fill="#666">MISSISSIPPI</text>
<rect x="518" y="496" width="22" height="10" fill="#8d7d6e"/>
<g>
<rect x="570" y="482" width="37" height="55" fill="#f3d9c3"/><rect x="573" y="485" width="31" height="49" fill="none" stroke="#d8a88a" stroke-width="0.6"/>
<text x="588" y="500" font-size="3.6" fill="#b33" text-anchor="middle">TRAITÉ DU</text><text x="588" y="505" font-size="3.6" fill="#b33" text-anchor="middle">TOUT-MONDE</text><text x="588" y="522" font-size="4" fill="#a55" text-anchor="middle">nrf</text>
<rect x="919" y="452" width="37" height="54" fill="#f5e7cd"/><rect x="922" y="455" width="31" height="48" fill="none" stroke="#dcc29c" stroke-width="0.6"/>
<text x="937" y="472" font-size="3.6" fill="#b33" text-anchor="middle">SARTORIUS</text><text x="937" y="490" font-size="4" fill="#a55" text-anchor="middle">nrf</text>
<rect x="1073" y="427" width="37" height="54" fill="#f7ecd0"/><rect x="1076" y="430" width="31" height="48" fill="none" stroke="#dcc8a0" stroke-width="0.6"/>
<text x="1091" y="447" font-size="3.6" fill="#b33" text-anchor="middle">ORMEROD</text><text x="1091" y="466" font-size="4" fill="#a55" text-anchor="middle">nrf</text>
<rect x="1214" y="414" width="37" height="55" fill="#f3dcc7"/><rect x="1217" y="417" width="31" height="49" fill="none" stroke="#d8ac90" stroke-width="0.6"/>
<text x="1232" y="434" font-size="3.4" fill="#b33" text-anchor="middle">LA COHÉE</text><text x="1232" y="439" font-size="3.4" fill="#b33" text-anchor="middle">DU LAMENTIN</text><text x="1232" y="456" font-size="4" fill="#a55" text-anchor="middle">nrf</text>
<rect x="908" y="576" width="37" height="54" fill="#f4dcc6"/><rect x="911" y="579" width="31" height="48" fill="none" stroke="#d8ac90" stroke-width="0.6"/>
<text x="926" y="596" font-size="3.4" fill="#b33" text-anchor="middle">Poétique</text><text x="926" y="601" font-size="3.4" fill="#b33" text-anchor="middle">de la Relation</text><text x="926" y="616" font-size="4" fill="#a55" text-anchor="middle">nrf</text>
</g>
<g fill="#fbfbf8" stroke-width="2">
<rect x="1126" y="671" width="33" height="50" stroke="#e5261f"/>
<rect x="1022" y="740" width="34" height="52" stroke="#ef6a44"/>
<rect x="621" y="784" width="34" height="52" stroke="#e5261f"/>
<rect x="473" y="872" width="35" height="52" stroke="#ee5a3a"/>
<rect x="649" y="965" width="36" height="56" stroke="#ee6a44" fill="#f4f1ec"/>
<rect x="883" y="893" width="34" height="51" stroke="#ef5a2a" fill="#f2f2f0"/>
<rect x="1074" y="973" width="34" height="49" stroke="#e03a2a" fill="#f6f0d8"/>
<rect x="826" y="1057" width="39" height="51" stroke="#e5261f"/>
</g>
<rect x="1136" y="691" width="13" height="17" fill="#6a7a8a"/>
<g font-size="3.8" fill="#555" text-anchor="middle">
<text x="1142" y="684">Mahagony</text>
<text x="1039" y="756">Pays rêvé,</text><text x="1039" y="761">pays réel</text>
<text x="638" y="800">La case</text><text x="638" y="805">du commandeur</text>
<text x="490" y="888">Malemort</text>
<text x="667" y="982">Le</text><text x="667" y="987">quatrième</text><text x="667" y="992">siècle</text>
<text x="900" y="910">Monsieur</text><text x="900" y="915">Toussaint</text>
<text x="1091" y="988">La Lézarde</text>
<text x="845" y="1072">Soleil</text><text x="845" y="1077">de la</text><text x="845" y="1082">conscience</text>
</g>
<rect x="562" y="792" width="42" height="64" fill="#ebe3d3"/>
<text x="583" y="799" font-size="4.2" fill="#7a6a50" text-anchor="middle">Edouard Glissant</text>
<text x="583" y="805" font-size="4.3" fill="#5a4a35" text-anchor="middle">Le discours antillais</text>
<rect x="566" y="808" width="34" height="44" fill="#a6987e"/>
<path d="M580,812 C590,812 590,825 585,830 L588,850 L582,850 L580,832 C574,828 572,818 580,812 Z" fill="#eee"/>
<rect x="470" y="985" width="37" height="56" fill="#ece4d2"/>
<rect x="476" y="991" width="25" height="30" fill="#f6f2ea"/>
<text x="488" y="1002" font-size="3.5" fill="#555" text-anchor="middle">L'INTENTION</text>
<text x="488" y="1007" font-size="3.5" fill="#555" text-anchor="middle">POÉTIQUE</text>
<rect x="471" y="1022" width="35" height="17" fill="#2e2e2e"/>
<text x="488" y="1030" font-size="4.5" fill="#fff" text-anchor="middle">Edouard</text>
<text x="488" y="1036" font-size="5" fill="#fff" text-anchor="middle">Glissant</text>
<rect x="818" y="984" width="26" height="39" fill="#fff"/>
<g fill="#e23" font-size="3" text-anchor="middle"><text x="831" y="993">Le Sang rivé</text><text x="831" y="998">à l'heure</text><text x="831" y="1003">de la reconnaissance</text><text x="831" y="1016">nrf</text></g>
<rect x="883" y="1060" width="36" height="46" fill="#e6b74e"/>
<text x="901" y="1075" font-size="4.5" fill="#7a4a10" text-anchor="middle">LES INDES</text>

<!-- RED LABELS -->
<g class="r">
<text font-size="14.5"><textPath href="#pM2">MARTINIQUE 2000s</textPath></text>
<text font-size="15"><textPath href="#pNY">NEW YORCK CITY 2000s</textPath></text>
<text font-size="16"><textPath href="#pP2">PARIS  2000s</textPath></text>
<text font-size="16.5"><textPath href="#pUS">US-SOUTH 90s</textPath></text>
<text font-size="15"><textPath href="#pP8">PARIS  80s</textPath></text>
<text font-size="16.5"><textPath href="#pP5">PARIS  50s-60s</textPath></text>
<text font-size="15"><textPath href="#pM7">MARTINIQUE 70s</textPath></text>
<text font-size="16.5"><textPath href="#pM4">MARTINIQUE 40s</textPath></text>
</g>

<!-- BLOCK LABELS -->
<g class="b">
<text x="71" y="272" font-size="14" textLength="108" lengthAdjust="spacingAndGlyphs">THE INVISIBLE</text>
<text x="72" y="293" font-size="16" textLength="138" lengthAdjust="spacingAndGlyphs">BATOUTO NATION</text>
<text x="53" y="929" font-size="15" textLength="93" lengthAdjust="spacingAndGlyphs">CARIBBEAN</text>
<text x="53" y="950" font-size="15" textLength="94" lengthAdjust="spacingAndGlyphs">FEDERATION</text>
<text x="1424" y="1066" font-size="13" textLength="86" lengthAdjust="spacingAndGlyphs">MARTINICAN</text>
<text x="1425" y="1084" font-size="13" textLength="93" lengthAdjust="spacingAndGlyphs">INDEPENDENCE</text>
<text x="1312" y="596" font-size="11" textLength="40" lengthAdjust="spacingAndGlyphs">WORLD</text>
<text x="1309" y="610" font-size="11" textLength="58" lengthAdjust="spacingAndGlyphs">COMMUNITY</text>
<text x="1325" y="625" font-size="11">OF</text>
<text x="1318" y="640" font-size="11" textLength="36" lengthAdjust="spacingAndGlyphs">POETS</text>
<text x="1466" y="601" font-size="11" textLength="44" lengthAdjust="spacingAndGlyphs">WORLD</text>
<text x="1467" y="617" font-size="11" textLength="68" lengthAdjust="spacingAndGlyphs">COMMUNITY</text>
<text x="1485" y="631" font-size="11">OF</text>
<text x="1470" y="646" font-size="11" textLength="56" lengthAdjust="spacingAndGlyphs">READERS</text>
</g>

<!-- HANDWRITTEN TEXT -->
<g class="h" font-size="10.5">
<text x="485" y="245">failed</text>
<text x="493" y="258">attempt to</text>
<text x="489" y="273">turn Martinique</text>
<text x="492" y="286">into a</text>
<text x="486" y="299">«Pays biologique</text>
<text x="501" y="312">du monde»</text>
</g>
<text x="377" y="270" font-size="13" class="k">*</text>
<text x="374" y="284" font-size="8.5" class="k">2011</text>

<g class="k" font-size="8.5">
<text x="704" y="162">CITY</text>
<text x="698" y="173">UNIVERSITY</text>
<text x="698" y="184">N.Y.C</text>
</g>

<g class="k" font-size="7.5">
<text x="1110" y="248">MUSÉE POUR</text>
<text x="1098" y="259">LA MÉMOIRE</text>
<text x="1094" y="270">DES ESCLAVAGES</text>
</g>
<g class="h" font-size="10">
<text x="1215" y="292">failed</text>
<text x="1218" y="305">attempt to</text>
<text x="1206" y="318">set up</text>
<text x="1191" y="331">Slavery Museum</text>
</g>
<g class="k" font-size="9">
<text x="1215" y="366">INSTITUT</text>
<text x="1202" y="378">DU TOUT-</text>
<text x="1213" y="390">MONDE</text>
</g>
<text x="1289" y="400" font-size="6" class="h">2006</text>
<g class="h" font-size="10">
<text x="1054" y="381">Éditions</text>
<text x="1046" y="393">Gallimard</text>
<text x="1039" y="405">re-publishes</text>
<text x="1047" y="418">complete works</text>
</g>
<text x="1082" y="489" font-size="7" class="h">2003</text>
<g class="h" font-size="9.5">
<text x="1205" y="498">failed attempt at</text>
<text x="1212" y="511">setting up</text>
</g>
<g class="k" font-size="8">
<text x="1219" y="526">INSTITUT DU</text>
<text x="1231" y="538">TOUT-</text>
<text x="1238" y="550">MONDE</text>
</g>
<g class="h" font-size="10">
<text x="1101" y="528">Sarkozy</text>
<text x="1100" y="542">Government</text>
</g>

<g class="h" font-size="11">
<text x="638" y="452">failed attempt</text>
<text x="648" y="467">to return to</text>
<text x="668" y="483">IME</text>
</g>
<text x="432" y="531" font-size="10" class="h" transform="rotate(-5 432 531)">Honorary President</text>
<g class="h" font-size="10">
<text x="499" y="549" transform="rotate(-8 499 549)">Soyinka</text>
<text x="504" y="562">Derrida</text>
<text x="517" y="573">and others</text>
</g>
<g class="k" font-size="7.5">
<text x="447" y="591">INTERNATIONAL</text>
<text x="447" y="601">PARLIAMENT</text>
<text x="450" y="611">OF WRITERS</text>
<text x="465" y="620">1993</text>
</g>
<g class="h" font-size="10" style="font-style:normal">
<text x="564" y="590" transform="rotate(-4 564 590)">BLACK-WHITE</text>
<text x="561" y="603" transform="rotate(-4 561 603)">UNIVERSITY POLITICS</text>
</g>
<g class="k" font-size="8.5">
<text x="552" y="645">LOUISIANA</text>
<text x="555" y="655">STATE</text>
<text x="553" y="666">UNIVERSITY</text>
</g>
<g class="h" font-size="9" transform="rotate(-15 720 695)">
<text x="688" y="690">Professor for</text>
<text x="692" y="702">French Studies</text>
<text x="718" y="713">'89</text>
</g>
<g class="h" font-size="9">
<text x="1064" y="597">Honorary Doctor</text>
<text x="1067" y="609">@ University of</text>
<text x="1097" y="620">Toronto '89</text>
</g>
<g class="h" font-size="11">
<text x="868" y="648">« Unesco</text>
<text x="886" y="659">Courrier »</text>
</g>
<text x="913" y="670" font-size="7" class="h">1983-1988</text>

<g class="h" font-size="10">
<text x="887" y="788">travels to Cuba</text>
<text x="913" y="824">travels to</text>
<text x="928" y="839">Algeria</text>
</g>
<g class="h" font-size="11" style="font-style:normal;fill:#333">
<text x="352" y="850">FAILED EFFORTS</text>
<text x="339" y="864">TO CREATE</text>
<text x="352" y="877">WEST INDIAN</text>
<text x="342" y="889">FEDERATION</text>
</g>
<text x="506" y="876" font-size="10.5" class="h">Carifesta'76</text>
<text x="528" y="932" font-size="10.5" class="h">travels to Ibadan</text>
<text x="429" y="963" font-size="12" class="b" font-style="italic">« Acoma »</text>
<g class="k" font-size="7">
<text x="530" y="1062">INSTITUT</text>
<text x="524" y="1071">MARTINIQUAS</text>
<text x="532" y="1080">D'ETUDES</text>
</g>
<g class="h" font-size="10">
<text x="450" y="1082">Césaine</text>
<text x="446" y="1094">administration</text>
<text x="451" y="1106">in Fort-de-France</text>
</g>
<g class="h" font-size="9.5">
<text x="660" y="855">Albert Beville</text>
<text x="647" y="867">dies in plane crash</text>
<text x="697" y="878">1962</text>
</g>
<g class="h" font-size="10">
<text x="754" y="878">de</text>
<text x="756" y="890">Gaulle</text>
</g>
<g class="k" font-size="7">
<text x="810" y="946">FRONT</text>
<text x="812" y="955">ANTILLO-</text>
<text x="814" y="964">GUYANAIS</text>
</g>
<g class="h" font-size="11">
<text x="988" y="910">Rome</text>
<text x="990" y="925">1959</text>
</g>
<g class="h" font-size="9.5">
<text x="963" y="949" transform="rotate(10 963 949)">last meeting</text>
<text x="948" y="966" transform="rotate(6 948 966)">with Fanon?</text>
</g>
<g class="k" font-size="6.5">
<text x="1135" y="974">RENAUDOT</text>
<text x="1144" y="982">PRIZE</text>
</g>
<g class="h" font-size="8.5">
<text x="863" y="1014">French literary</text>
<text x="880" y="1024">Scene:</text>
<text x="856" y="1034">Roger Giraux</text>
<text x="856" y="1043">and others</text>
</g>
<g class="h" font-size="8.5">
<text x="960" y="1022">Militant anti-</text>
<text x="952" y="1033">colonial circles:</text>
<text x="966" y="1043">Kateb Yacine</text>
<text x="963" y="1051">and others</text>
</g>
<g class="h" font-size="11">
<text x="999" y="1069">Sorbonne</text>
<text x="1001" y="1084">1956</text>
</g>
<g class="h" font-size="8">
<text x="861" y="1150">joins editorial</text>
<text x="868" y="1160">committee, 1953</text>
</g>
<g class="h" font-size="10">
<text x="862" y="1188">« Les Lettres</text>
<text x="884" y="1203">Nouvelles »</text>
</g>
<g class="h" font-size="8">
<text x="1014" y="1144">Member of</text>
<text x="1013" y="1155">Executive</text>
<text x="1020" y="1166">Committee</text>
<text x="1030" y="1176">1956</text>
</g>
<g class="h" font-size="7.5">
<text x="990" y="1203">Société</text>
<text x="990" y="1213">Africaine</text>
<text x="989" y="1223">de Culture</text>
</g>
<g class="h" font-size="9.5">
<text x="1109" y="1150">Delegate of Martinique</text>
<text x="1112" y="1162">with Louis Achille,</text>
<text x="1120" y="1175">Fanon and Césaine</text>
</g>

<g class="h" font-size="8.5">
<text x="373" y="1216">André Breton</text>
<text x="344" y="1234">Wilfredo Lam</text>
<text x="342" y="1252">Lévi-Strauss</text>
<text x="337" y="1273">René Depestre</text>
<text x="351" y="1292">Pierre Mabille</text>
</g>
<text x="448" y="1237" font-size="9" class="k">US-NAVY</text>
<text x="434" y="1255" font-size="10" class="k">SEA BLOCKADE</text>
<text x="455" y="1263" font-size="6.5" class="k">1940-1942</text>
<text x="615" y="1252" font-size="10" class="k">DEPARTMENTALISATION</text>
<text x="725" y="1263" font-size="6.5" class="k">1946</text>
<g class="h" font-size="7">
<text x="571" y="1273">support election</text>
<text x="585" y="1284">campaign</text>
</g>
<text x="496" y="1306" font-size="10" class="b" font-style="italic">«Franc Jeu»</text>
<text x="560" y="1318" font-size="6.5" class="k">1943</text>
<g class="h" font-size="8.5">
<text x="627" y="1298">Fort-de-</text>
<text x="625" y="1310">France</text>
<text x="634" y="1323">Mayor</text>
<text x="686" y="1302">French</text>
<text x="676" y="1315">&amp; Deputy</text>
<text x="700" y="1330">1945</text>
<text x="433" y="1336">Frantz</text>
<text x="435" y="1350">Fanon</text>
</g>
<text x="510" y="1358" font-size="9" class="h">Lycée Schoelcher</text>
<g class="h" font-size="9.5">
<text x="632" y="1358">Aimé</text>
<text x="628" y="1375">Césaine</text>
</g>
<text x="503" y="1437" font-size="10" class="k">*</text>
<text x="496" y="1451" font-size="8" class="h">1928</text>
<g class="h" font-size="8.5">
<text x="551" y="1461">Morne</text>
<text x="541" y="1474">Bezaudin</text>
</g>
</svg>
</body></html>
